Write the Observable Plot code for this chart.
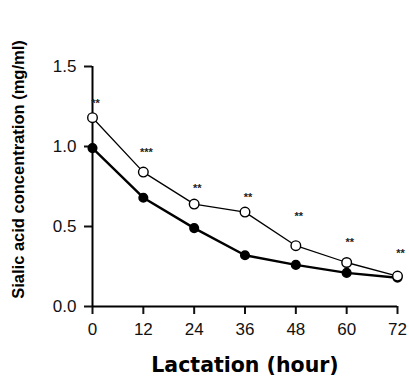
<!DOCTYPE html>
<html>
<head>
<meta charset="utf-8">
<script src="https://cdn.jsdelivr.net/npm/d3@7"></script>
<script src="https://cdn.jsdelivr.net/npm/@observablehq/plot@0.6"></script>
<style>
  html, body { margin: 0; padding: 0; background: #fff; }
  #chart { width: 409px; height: 377px; }
</style>
</head>
<body>
<div id="chart"></div>
<script>
const hours = [0, 12, 24, 36, 48, 60, 72];
const openValues = [1.18, 0.84, 0.64, 0.59, 0.38, 0.275, 0.19];
const filledValues = [0.99, 0.68, 0.49, 0.32, 0.26, 0.21, 0.18];
const starLabels = ["**", "***", "**", "**", "**", "**", "**"];
const starLevels = [1.27, 0.96, 0.74, 0.68, 0.56, 0.40, 0.33];
const yTicks = [0, 0.5, 1.0, 1.5];
const xTicks = [0, 12, 24, 36, 48, 60, 72];

const openData = hours.map((h, i) => ({h, v: openValues[i]}));
const filledData = hours.map((h, i) => ({h, v: filledValues[i]}));
const starData = hours.map((h, i) => ({h, v: starLevels[i], s: starLabels[i]}));

const chart = Plot.plot({
  width: 409,
  height: 377,
  marginLeft: 92,
  marginRight: 12,
  marginTop: 66,
  marginBottom: 71,
  style: {fontFamily: "Liberation Sans, Arial, sans-serif", fontSize: "17px", color: "#111", background: "#fff"},
  x: {domain: [0, 72]},
  y: {domain: [0, 1.5]},
  marks: [
    Plot.axisX({ticks: xTicks, tickSize: 8, tickPadding: 8, label: null, strokeWidth: 2, tickFormat: d => String(d)}),
    Plot.axisY({ticks: yTicks, tickSize: 8, tickPadding: 8, label: null, strokeWidth: 2, tickFormat: d3.format(".1f")}),
    Plot.ruleY([0], {strokeWidth: 2, stroke: "#000"}),
    Plot.ruleX([0], {y1: 0, y2: 1.5, strokeWidth: 2, stroke: "#000"}),
    Plot.line(filledData, {x: "h", y: "v", stroke: "#000", strokeWidth: 2.4}),
    Plot.line(openData, {x: "h", y: "v", stroke: "#000", strokeWidth: 1.3}),
    Plot.dot(filledData, {x: "h", y: "v", r: 4.3, fill: "#000", stroke: "#000"}),
    Plot.dot(openData, {x: "h", y: "v", r: 4.8, fill: "#fff", stroke: "#000", strokeWidth: 1.4}),
    Plot.text(starData, {x: "h", y: "v", text: "s", dx: 3, fontSize: 11, fontWeight: "bold", fill: "#222"}),
    Plot.text(["Lactation (hour)"], {frameAnchor: "bottom", dy: 65, fontSize: 20.5, fontFamily: "DejaVu Sans, sans-serif", fontWeight: "bold", fill: "#000"}),
    Plot.text(["Sialic acid concentration (mg/ml)"], {frameAnchor: "left", dx: -74, dy: -17, rotate: -90, textAnchor: "middle", fontSize: 16.5, fontWeight: "bold", fill: "#000"})
  ]
});
document.getElementById("chart").appendChild(chart);
</script>
</body>
</html>
